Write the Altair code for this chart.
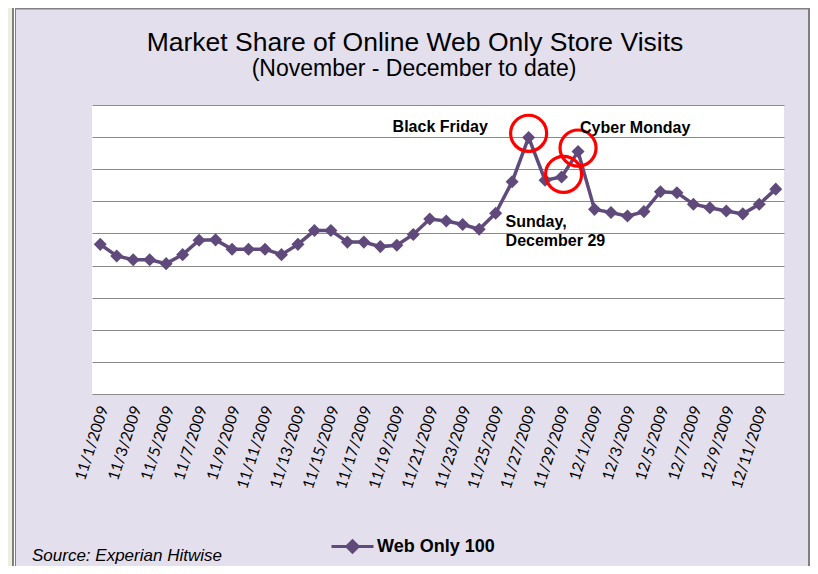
import altair as alt
import pandas as pd

dates = ["11/1/2009", "11/2/2009", "11/3/2009", "11/4/2009", "11/5/2009", "11/6/2009",
         "11/7/2009", "11/8/2009", "11/9/2009", "11/10/2009", "11/11/2009", "11/12/2009",
         "11/13/2009", "11/14/2009", "11/15/2009", "11/16/2009", "11/17/2009", "11/18/2009",
         "11/19/2009", "11/20/2009", "11/21/2009", "11/22/2009", "11/23/2009", "11/24/2009",
         "11/25/2009", "11/26/2009", "11/27/2009", "11/28/2009", "11/29/2009", "11/30/2009",
         "12/1/2009", "12/2/2009", "12/3/2009", "12/4/2009", "12/5/2009", "12/6/2009",
         "12/7/2009", "12/8/2009", "12/9/2009", "12/10/2009", "12/11/2009", "12/12/2009"]
share = [4.66, 4.30, 4.18, 4.18, 4.06, 4.34, 4.79, 4.80, 4.51, 4.51, 4.51, 4.34,
         4.66, 5.09, 5.09, 4.73, 4.73, 4.59, 4.63, 4.97, 5.45, 5.39, 5.28, 5.13,
         5.63, 6.61, 7.99, 6.66, 6.76, 7.55, 5.75, 5.65, 5.54, 5.68, 6.30, 6.27,
         5.91, 5.80, 5.70, 5.61, 5.91, 6.38]
label_dates = ["11/1/2009", "11/3/2009", "11/5/2009", "11/7/2009", "11/9/2009",
               "11/11/2009", "11/13/2009", "11/15/2009", "11/17/2009", "11/19/2009",
               "11/21/2009", "11/23/2009", "11/25/2009", "11/27/2009", "11/29/2009",
               "12/1/2009", "12/3/2009", "12/5/2009", "12/7/2009", "12/9/2009", "12/11/2009"]
grid_values = [0, 1, 2, 3, 4, 5, 6, 7, 8, 9]
series_name = "Web Only 100"

# highlighted days (red circles): date and circle centre (in y units)
circle_dates = ["11/27/2009", "11/29/2009", "11/30/2009"]
circle_centre = [8.12, 6.84, 7.66]
circle_dx = [0, 2, 0]

# annotations
note_black_friday = "Black Friday"
note_cyber_monday = "Cyber Monday"
note_sunday = ["Sunday,", "December 29"]

title_text = "Market Share of Online Web Only Store Visits"
subtitle_text = "(November - December to date)"
source_text = "Source: Experian Hitwise"

PURPLE = "#604A7B"
LAV = "#E4DFEC"
GRID = "#8A8A8A"
FONT = "Liberation Sans, Arial, sans-serif"
LABEL_FONT = "Lato, Liberation Sans, sans-serif"

df = pd.DataFrame({"date": dates, "share": share, "series": [series_name] * len(dates)})
val = dict(zip(dates, share))
circ = pd.DataFrame({"date": circle_dates, "share": circle_centre, "dx": circle_dx})

W, H = 692, 289
PL, PT, PR, PB = 84, 97, 26, 172

xaxis = alt.Axis(values=label_dates, labelAngle=-72, labelAlign="right",
                 labelBaseline="middle", labelPadding=12, labelOffset=3,
                 ticks=False, domain=False, grid=False, title=None,
                 labelFont=LABEL_FONT, labelFontSize=15.5,
                 labelColor="#000000", labelOverlap=False)
yaxis = alt.Axis(values=grid_values, labels=False, ticks=False, domain=False,
                 grid=True, gridColor=GRID, gridWidth=1.2, title=None)
xscale = alt.Scale(type="point", padding=0.5)
yscale = alt.Scale(domain=[0, 9], nice=False, zero=True)

def xenc():
    return alt.X("date:O", sort=dates, scale=xscale, axis=xaxis)

def yenc():
    return alt.Y("share:Q", scale=yscale, axis=yaxis)

line = alt.Chart(df).mark_line(
    strokeWidth=3.5,
    point=alt.OverlayMarkDef(shape="diamond", size=170, filled=True, color=PURPLE),
).encode(
    x=xenc(), y=yenc(),
    color=alt.Color("series:N", scale=alt.Scale(domain=[series_name], range=[PURPLE]),
                    legend=alt.Legend(orient="none", legendX=238, legendY=419, title=None,
                                      symbolType="M-1,0L1,0M0,-0.27L0.27,0L0,0.27L-0.27,0Z",
                                      symbolSize=1764, symbolStrokeWidth=3,
                                      symbolFillColor=PURPLE, symbolStrokeColor=PURPLE,
                                      labelFont=FONT, labelFontSize=18, labelFontWeight="bold",
                                      labelColor="#000000", padding=0, labelOffset=2)),
)

circles = alt.Chart(circ).mark_point(shape="circle", filled=False, size=1300,
                                     stroke="#FF0000", strokeWidth=3.2, opacity=1).encode(
    x=xenc(), y=yenc(),
    xOffset=alt.XOffset("dx:Q", scale=None),
)

def note(date, text, dx, dy):
    d = pd.DataFrame({"date": [date], "share": [val[date]], "text": [text]})
    return alt.Chart(d).mark_text(align="left", baseline="alphabetic", font=FONT,
                                  fontSize=16, fontWeight="bold", color="#000000",
                                  lineHeight=19, dx=dx, dy=dy).encode(
        x=xenc(), y=yenc(), text="text")

notes = [
    note("11/27/2009", note_black_friday, -136, -5),
    note("11/30/2009", note_cyber_monday, 2, -19),
    note("11/29/2009", note_sunday, -56, 50),
]

one = alt.Data(values=[{}])
def deco_rect(x1, x2, y1, y2, color):
    return alt.Chart(one).mark_rect(color=color).encode(
        x=alt.value(x1), x2=alt.value(x2), y=alt.value(y1), y2=alt.value(y2))

def deco_text(text, x, y, size, style="normal", weight="normal", align="left"):
    return alt.Chart(one).mark_text(align=align, baseline="alphabetic", font=FONT,
                                    fontSize=size, fontStyle=style, fontWeight=weight,
                                    color="#000000").encode(
        x=alt.value(x), y=alt.value(y), text=alt.value(text))

decos = [
    deco_rect(-PL, -80, -PT, H + PB, "#EBF1DE"),
    deco_rect(-80, -78, -PT, H + PB, "#808080"),
    deco_rect(-78, -77, -PT, H + PB, "#FFFFFF"),
    deco_rect(-77, -76, -PT, H + PB, "#808080"),
    deco_rect(-76, W + PR, -PT, -PT + 1.5, "#808080"),
    deco_rect(W + PR - 2, W + PR, -PT, H + PB, "#808080"),
]

texts = [
    deco_text(title_text, 323, -54, 26.5, align="center"),
    deco_text(subtitle_text, 322, -29, 23, align="center"),
    deco_text(source_text, -60, 456, 17, style="italic"),
]

chart = alt.layer(*decos, line, circles, *notes, *texts).properties(
    width=W, height=H,
    autosize=alt.AutoSizeParams(type="none"),
    padding={"left": PL, "top": PT, "right": PR, "bottom": PB},
    background=LAV,
).configure_view(fill="#FFFFFF", strokeWidth=0)

chart.save("out.html", embed_options={"renderer": "svg", "actions": False})
